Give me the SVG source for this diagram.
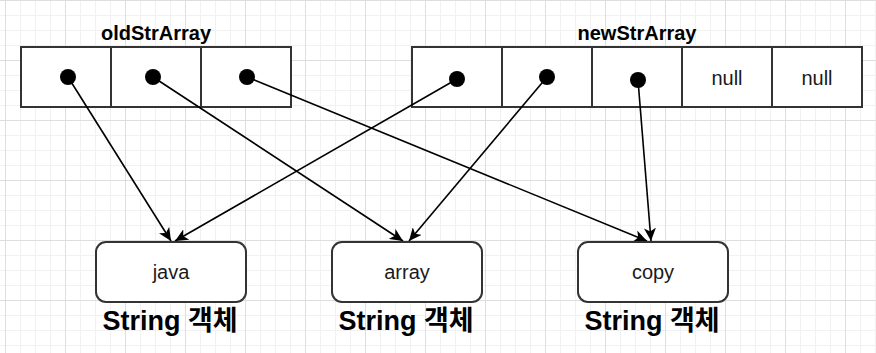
<svg xmlns="http://www.w3.org/2000/svg" width="876" height="353" viewBox="0 0 876 353">
  <defs>
    <pattern id="grid" patternUnits="userSpaceOnUse" x="5" y="0" width="60" height="60">
      <rect x="0" y="0" width="60" height="60" fill="#ffffff"/>
      <rect x="15" y="0" width="1" height="60" fill="#f1f1f1"/>
      <rect x="30" y="0" width="1" height="60" fill="#f1f1f1"/>
      <rect x="45" y="0" width="1" height="60" fill="#f1f1f1"/>
      <rect x="0" y="15" width="60" height="1" fill="#f1f1f1"/>
      <rect x="0" y="30" width="60" height="1" fill="#f1f1f1"/>
      <rect x="0" y="45" width="60" height="1" fill="#f1f1f1"/>
      <rect x="0" y="0" width="1" height="60" fill="#dedede"/>
      <rect x="0" y="0" width="60" height="1" fill="#dedede"/>
    </pattern>
    <marker id="arrow" markerUnits="userSpaceOnUse" markerWidth="14" markerHeight="12" refX="13" refY="6" orient="auto">
      <path d="M0,0 L13,6 L0,12 L3.5,6 Z" fill="#000"/>
    </marker>
    <style>
      .cell { fill: #ffffff; stroke: #333333; stroke-width: 2; }
      .obj { fill: #ffffff; stroke: #333333; stroke-width: 2; }
      .dot { fill: #000000; }
      .title { font-family: "Liberation Sans", Arial, sans-serif; font-weight: bold; font-size: 20px; fill: #000; text-anchor: middle; }
      .val { font-family: "Liberation Sans", Arial, sans-serif; font-size: 20px; fill: #1a1a1a; text-anchor: middle; }
      .cap { font-family: "Liberation Sans", "Noto Sans CJK KR", sans-serif; font-weight: bold; font-size: 27px; fill: #000; text-anchor: middle; }
      .conn { fill: none; stroke: #000; stroke-width: 1.6; marker-end: url(#arrow); }
    </style>
  </defs>

  <rect x="0" y="0" width="876" height="353" fill="url(#grid)"/>

  <g id="oldStrArray">
    <text class="title" x="156" y="40">oldStrArray</text>
    <rect class="cell" x="21" y="47" width="90" height="60"/>
    <rect class="cell" x="111" y="47" width="90" height="60"/>
    <rect class="cell" x="201" y="47" width="90" height="60"/>
  </g>

  <g id="newStrArray">
    <text class="title" x="637" y="40">newStrArray</text>
    <rect class="cell" x="412" y="47" width="90" height="60"/>
    <rect class="cell" x="502" y="47" width="90" height="60"/>
    <rect class="cell" x="592" y="47" width="90" height="60"/>
    <rect class="cell" x="682" y="47" width="90" height="60"/>
    <rect class="cell" x="772" y="47" width="90" height="60"/>
    <text class="val" x="727" y="85">null</text>
    <text class="val" x="817" y="85">null</text>
  </g>

  <g id="connectors">
    <path class="conn" d="M68,77 L171,241"/>
    <path class="conn" d="M153,77 L403,241"/>
    <path class="conn" d="M247,77 L647,241"/>
    <path class="conn" d="M457,79 L175,241"/>
    <path class="conn" d="M547,77 L409,241"/>
    <path class="conn" d="M638,80 L651,241"/>
  </g>

  <g id="pointers">
    <circle class="dot" cx="68" cy="77" r="8"/>
    <circle class="dot" cx="153" cy="77" r="8"/>
    <circle class="dot" cx="247" cy="77" r="8"/>
    <circle class="dot" cx="457" cy="79" r="8"/>
    <circle class="dot" cx="547" cy="77" r="8"/>
    <circle class="dot" cx="638" cy="80" r="8"/>
  </g>

  <g id="java">
    <rect class="obj" x="96" y="242" width="150" height="60" rx="10" ry="10"/>
    <text class="val" x="171" y="279">java</text>
    <text class="cap" x="170" y="330">String 객체</text>
  </g>

  <g id="array">
    <rect class="obj" x="332" y="242" width="150" height="60" rx="10" ry="10"/>
    <text class="val" x="407" y="279">array</text>
    <text class="cap" x="406" y="330">String 객체</text>
  </g>

  <g id="copy">
    <rect class="obj" x="578" y="242" width="150" height="60" rx="10" ry="10"/>
    <text class="val" x="653" y="279">copy</text>
    <text class="cap" x="652" y="330">String 객체</text>
  </g>
</svg>
